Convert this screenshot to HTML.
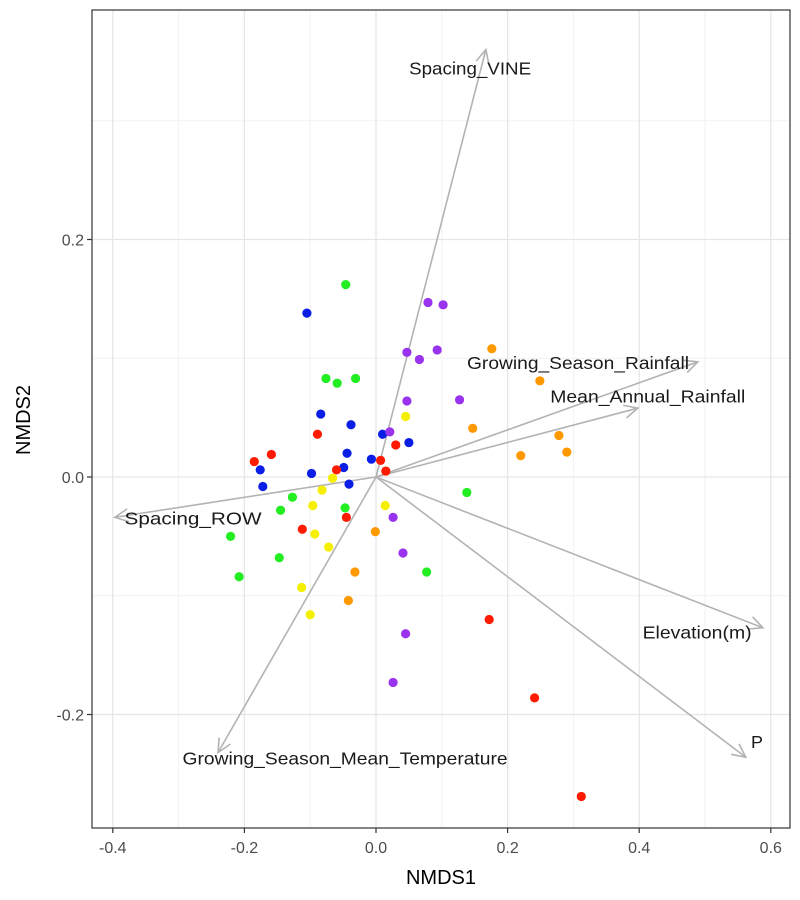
<!DOCTYPE html>
<html><head><meta charset="utf-8"><style>
html,body{margin:0;padding:0;background:#fff;}
svg text{font-family:"Liberation Sans",Arial,sans-serif;}
</style></head><body>
<svg id="chart" width="800" height="895" viewBox="0 0 800 895" xmlns="http://www.w3.org/2000/svg">
<rect x="0" y="0" width="800" height="895" fill="#fff"/>
<g id="grid"></g>
<g id="arrows"></g>
<g id="points"></g>
<rect x="92" y="10" width="698" height="818" fill="none" stroke="#333" stroke-width="1.2"/>
<g id="axes"></g>
<text x="441" y="884" font-size="20" text-anchor="middle" fill="#000">NMDS1</text>
<text x="0" y="0" font-size="20" text-anchor="middle" fill="#000" transform="translate(30,420) rotate(-90)">NMDS2</text>
</svg>
<script>
const xTicks=[-0.4,-0.2,0.0,0.2,0.4,0.6];
const xTickLabels=["-0.4","-0.2","0.0","0.2","0.4","0.6"];
const xMinor=[-0.3,-0.1,0.1,0.3,0.5];
const yTicks=[-0.2,0.0,0.2];
const yTickLabels=["-0.2","0.0","0.2"];
const yMinor=[-0.1,0.1,0.3];
const groupNames=["blue","red","green","yellow","orange","purple"];
const groupColors=["#0a1ee6","#ff1a00","#22ee22","#f5f000","#ff9900","#9933ee"];
const blueX=[-0.105,-0.084,-0.038,0.010,0.050,-0.176,-0.044,-0.007,-0.049,-0.098,-0.172,-0.041];
const blueY=[0.138,0.053,0.044,0.036,0.029,0.006,0.020,0.015,0.008,0.003,-0.008,-0.006];
const redX=[-0.089,0.030,-0.159,-0.185,0.007,-0.060,0.015,-0.045,-0.112,0.172,0.241,0.312];
const redY=[0.036,0.027,0.019,0.013,0.014,0.006,0.005,-0.034,-0.044,-0.120,-0.186,-0.269];
const greenX=[-0.046,-0.076,-0.059,-0.031,-0.127,0.138,-0.145,-0.047,-0.221,-0.147,0.077,-0.208];
const greenY=[0.162,0.083,0.079,0.083,-0.017,-0.013,-0.028,-0.026,-0.050,-0.068,-0.080,-0.084];
const yellowX=[0.045,-0.066,-0.082,-0.096,0.014,-0.093,-0.072,-0.100,-0.113];
const yellowY=[0.051,-0.001,-0.011,-0.024,-0.024,-0.048,-0.059,-0.116,-0.093];
const orangeX=[0.176,0.249,0.147,0.278,0.220,0.290,-0.001,-0.032,-0.042];
const orangeY=[0.108,0.081,0.041,0.035,0.018,0.021,-0.046,-0.080,-0.104];
const purpleX=[0.079,0.102,0.047,0.066,0.093,0.047,0.127,0.021,0.026,0.041,0.045,0.026];
const purpleY=[0.147,0.145,0.105,0.099,0.107,0.064,0.065,0.038,-0.034,-0.064,-0.132,-0.173];
const vecNames=["Spacing_VINE","Growing_Season_Rainfall","Mean_Annual_Rainfall","Spacing_ROW","Elevation(m)","P","Growing_Season_Mean_Temperature"];
const vecX=[0.167,0.489,0.398,-0.397,0.588,0.562,-0.240];
const vecY=[0.360,0.097,0.058,-0.034,-0.127,-0.236,-0.232];
const labX=[0.143,0.307,0.413,-0.278,0.488,0.579,-0.047];
const labY=[0.344,0.096,0.068,-0.035,-0.131,-0.223,-0.237];
const labW=[122,222,195,137,109,12,325];

const NS="http://www.w3.org/2000/svg";
function sx(v){return 376+v*658;}
function sy(v){return 477-v*1187.5;}
function mk(t,a,p){const e=document.createElementNS(NS,t);for(const k in a)e.setAttribute(k,a[k]);p.appendChild(e);return e;}
const grid=document.getElementById('grid'),axes=document.getElementById('axes'),arrows=document.getElementById('arrows'),pts=document.getElementById('points');
xMinor.forEach(v=>{const l=mk('line',{x1:sx(v),x2:sx(v),y1:10,y2:828,stroke:'#f2f2f2','stroke-width':1},grid);

});
yMinor.forEach(v=>{const l=mk('line',{x1:92,x2:790,y1:sy(v),y2:sy(v),stroke:'#f2f2f2','stroke-width':1},grid);

});
xTicks.forEach((v,i)=>{const l=mk('line',{x1:sx(v),x2:sx(v),y1:10,y2:828,stroke:'#e6e6e6','stroke-width':1.3},grid);


const t=mk('line',{x1:sx(v),x2:sx(v),y1:828,y2:833,stroke:'#333','stroke-width':1.2},axes);


const tx=mk('text',{x:sx(v),y:853,'font-size':16,'text-anchor':'middle',fill:'#4d4d4d'},axes);tx.textContent=xTickLabels[i];

});
yTicks.forEach((v,i)=>{const l=mk('line',{x1:92,x2:790,y1:sy(v),y2:sy(v),stroke:'#e6e6e6','stroke-width':1.3},grid);


const t=mk('line',{x1:87,x2:92,y1:sy(v),y2:sy(v),stroke:'#333','stroke-width':1.2},axes);


const tx=mk('text',{x:84,y:sy(v)+6,'font-size':16,'text-anchor':'end',fill:'#4d4d4d'},axes);tx.textContent=yTickLabels[i];

});
const ox=sx(0),oy=sy(0);
vecNames.forEach((n,i)=>{const x2=sx(vecX[i]),y2=sy(vecY[i]);
const g=mk('g',{},arrows);


mk('line',{x1:ox,y1:oy,x2:x2,y2:y2,stroke:'#b3b3b3','stroke-width':1.6},g);
const a=Math.atan2(y2-oy,x2-ox),L=15,w=0.45;
mk('polyline',{points:`${x2-L*Math.cos(a-w)},${y2-L*Math.sin(a-w)} ${x2},${y2} ${x2-L*Math.cos(a+w)},${y2-L*Math.sin(a+w)}`,fill:'none',stroke:'#b3b3b3','stroke-width':1.6},g);
const t=mk('text',{x:sx(labX[i])-labW[i]/2,y:sy(labY[i])+6,'font-size':17.5,textLength:labW[i],lengthAdjust:'spacingAndGlyphs',fill:'#1a1a1a'},g);t.textContent=n;

});
const allX=[blueX,redX,greenX,yellowX,orangeX,purpleX],allY=[blueY,redY,greenY,yellowY,orangeY,purpleY];
allX.forEach((xs,g)=>{xs.forEach((v,j)=>{const c=mk('circle',{cx:sx(v),cy:sy(allY[g][j]),r:4.6,fill:groupColors[g]},pts);

});});
</script>
</body></html>
